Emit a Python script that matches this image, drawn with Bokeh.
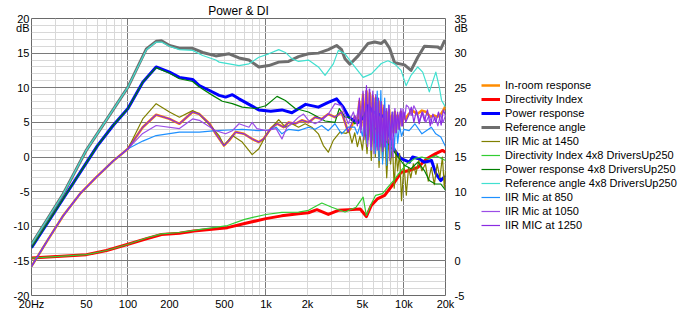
from bokeh.plotting import figure
from bokeh.layouts import row
from bokeh.models import Range1d, LinearAxis, FixedTicker, Legend, LegendItem
from bokeh.embed import file_html
from bokeh.resources import INLINE

FONT = "Liberation Sans"

# ---------------- axis ticks ----------------
X_TICKS = [20, 50, 100, 200, 500, 1000, 2000, 5000, 10000, 20000]
X_LABELS = ["20Hz", "50", "100", "200", "500", "1k", "2k", "5k", "10k", "20k"]
X_MAJOR_GRID = [100, 1000, 10000]
X_MINOR_GRID = [30, 40, 50, 60, 70, 80, 90, 200, 300, 400, 500, 600, 700, 800, 900,
                2000, 3000, 4000, 5000, 6000, 7000, 8000, 9000]
Y_TICKS = [-20, -15, -10, -5, 0, 5, 10, 15, 18.6, 20]
Y_LABELS = ["-20", "-15", "-10", "-5", "0", "5", "10", "15", "dB", "20"]
Y_MAJOR_GRID = [-15, -10, -5, 0, 5, 10, 15]
Y_MINOR_GRID = [v for v in range(-19, 20)]
YR_TICKS = [-5, 0, 5, 10, 15, 20, 25, 30, 33.6, 35]
YR_LABELS = ["-5", "0", "5", "10", "15", "20", "25", "30", "dB", "35"]

# ---------------- series (dB, left axis unless noted) ----------------
REF_F = [20, 34, 50, 70, 100, 136, 160, 175, 200, 236, 294, 348, 433, 541, 638, 753, 888, 1048, 1237,
         1459, 1722, 2032, 2398, 2830, 3251, 3532, 3736, 4058, 4657, 5495, 6139, 6852, 7246, 7870, 8551,
         10090, 11250, 12590, 14060, 17510, 18500, 19590, 20000]
REF_DB = [-12.6, -5.3, 1.0, 5.4, 10.1, 15.6, 16.7, 16.8, 16.1, 15.7, 15.7, 15.1, 14.6, 14.9, 14.3, 14.0,
          13.0, 13.2, 13.7, 13.8, 14.5, 14.9, 15.0, 15.5, 16.1, 15.5, 14.2, 13.4, 14.6, 16.4, 16.6, 16.4,
          16.8, 15.7, 13.6, 13.3, 12.5, 14.4, 16.0, 15.9, 15.6, 16.7, 16.5]

REF4_F = [20, 34, 50, 70, 100, 136, 160, 175, 200, 236, 294, 348, 433, 458, 541, 638, 753, 888, 1048,
          1237, 1382, 1542, 1722, 2032, 2398, 2681, 3078, 3344, 3736, 4405, 5059, 5806, 6852, 7652, 8551,
          9536, 10360, 11250, 12590, 13670, 15270, 17020, 18030, 18720, 20000]
REF4_DB = [-12.6, -5.3, 1.0, 5.4, 10.1, 15.5, 16.6, 16.6, 16.0, 15.5, 15.4, 14.65, 14.0, 13.7, 13.45,
           13.2, 13.45, 14.4, 14.9, 15.5, 15.1, 14.2, 13.8, 14.0, 13.0, 11.8, 13.45, 15.4, 14.9, 13.0,
           11.5, 12.0, 13.5, 13.9, 13.45, 12.5, 10.3, 11.8, 13.0, 12.25, 9.4, 12.25, 10.1, 8.2, 7.2]

PWR_F = [20, 34, 60, 78, 100, 128, 160, 200, 236, 294, 329, 390, 458, 510, 571, 638, 753, 888, 1083,
         1306, 1542, 1938, 2398, 2830, 3251, 3632, 3990, 4300, 4657, 5230, 5495, 5970, 7250, 8050, 8550,
         9536, 10940, 11550, 12820, 14060, 15850, 17020, 18500, 19590, 20000]
PWR_DB = [-13.1, -6.0, 1.6, 4.55, 7.0, 10.8, 13.0, 12.25, 11.5, 11.2, 10.3, 9.6, 8.9, 8.65, 9.0, 8.4,
          7.6, 6.8, 6.6, 6.8, 6.4, 7.6, 7.2, 7.9, 8.4, 7.2, 5.75, 5.3, 5.0, 6.0, 7.4, 6.5, 5.75, 2.4,
          0.95, -0.25, -0.75, 0.0, -0.25, -0.75, -0.5, -2.4, -3.4, -2.9, -3.0]

PWR4_F = [20, 34, 60, 78, 100, 128, 160, 200, 236, 294, 329, 410, 483, 571, 673, 841, 998, 1203, 1382,
          1630, 2032, 2271, 2681, 3163, 3400, 3736, 3990, 4406, 4920, 5340, 5806, 6852, 8050, 9040,
          10090, 11250, 12590, 14060, 15270, 16870, 18500, 20000]
PWR4_DB = [-13.1, -6.0, 1.6, 4.55, 7.0, 10.8, 12.9, 12.1, 11.3, 10.9, 10.1, 8.9, 8.05, 7.7, 7.2, 7.0,
           7.4, 8.75, 8.15, 7.0, 6.5, 6.0, 5.2, 5.0, 7.0, 5.75, 5.75, 4.8, 5.75, 6.25, 4.8, 3.1, 1.4,
           0.0, -1.2, -1.7, -0.75, -1.95, -3.4, -3.9, -3.9, -4.8]

# Directivity index curves, right axis (dB)
DI_F = [20, 50, 70, 100, 136, 175, 236, 300, 526, 700, 1000, 1300, 1722, 2032, 2341, 2830, 3344, 3990,
        4820, 5340, 5800, 6410, 7250, 7870, 8550, 9540, 10940, 12590, 14630, 16870, 19000, 20000]
DI_DB = [0.4, 0.9, 1.5, 2.4, 3.2, 3.8, 4.0, 4.3, 4.8, 5.4, 6.1, 6.5, 6.8, 6.95, 7.4, 6.7, 7.3, 7.4, 7.5,
         6.4, 8.0, 8.95, 9.45, 10.4, 11.35, 12.8, 13.05, 13.5, 14.75, 15.45, 15.95, 15.7]
DI4_F = [20, 50, 70, 100, 136, 175, 236, 300, 526, 700, 1000, 1300, 1722, 2032, 2540, 3000, 3740, 4500,
         5060, 5340, 5800, 6220, 7000, 7650, 8400, 9500, 10500, 12000, 13500, 15000, 17000, 19000, 20000]
DI4_DB = [0.4, 0.9, 1.5, 2.4, 3.3, 3.9, 4.1, 4.4, 5.1, 6.0, 6.7, 7.0, 7.05, 7.3, 8.35, 7.75, 7.05, 7.75,
          9.2, 6.55, 8.25, 9.45, 9.7, 10.65, 11.6, 13.0, 14.0, 14.8, 15.0, 14.7, 15.2, 14.7, 14.5]

# IIR mic curves (shared low-frequency part)
IIR_LOW_F = [20, 26, 34, 45, 59, 78, 100]
IIR_LOW_DB = [-15.8, -12.1, -8.45, -5.3, -2.9, -0.6, 1.2]

M1450_F = [128, 160, 200, 236, 294, 329, 410, 460, 496, 571, 673, 795, 888, 998, 1107, 1237, 1382, 1542,
           1722, 1924, 2148, 2398, 2606, 2830, 3076, 3436, 3800,
           4000, 4200, 4400, 4600, 4800, 5000, 5200, 5400, 5600, 5800, 6000, 6200, 6400, 6600, 6800,
           7000, 7250, 7500, 7750, 8000, 8250, 8500, 8750, 9000, 9300, 9600, 10000, 10400, 10800,
           11200, 11700, 12200, 12800, 13500, 14300, 15000, 15800, 16600, 17400, 18200, 19000, 19600,
           20000]
M1450_DB = [5.5, 7.7, 6.5, 5.75, 6.7, 6.2, 4.2, 3.0, 1.65, 3.1, 2.15, 0.35, 1.2, 3.1, 4.3, 5.4, 4.3, 4.8,
            4.3, 4.8, 4.3, 3.35, 1.65, 0.7, 2.4, 3.6, 3.4,
            3.8, 2.0, 3.5, 1.5, 3.0, 1.0, 4.5, 0.5, 5.5, -0.5, 6.5, 0.0, 5.0, -1.5, 4.0,
            -0.5, 3.5, -3.0, 2.5, -1.0, 2.0, -4.5, 1.0, -2.0, 0.5, -6.3, -1.0, -5.5, -1.5,
            -3.0, -1.0, -2.5, -0.5, -2.0, -1.0, -3.5, -1.5, -4.0, -1.0, -3.0, 0.0, -4.4,
            -2.0]

M850_F = [128, 160, 236, 329, 433, 541, 673, 888, 1048, 1185, 1306, 1459, 1722, 2032, 2271, 2535, 2830,
          3163, 3532, 3944,
          4400, 4600, 4800, 5000, 5200, 5400, 5600, 5800, 6000, 6200, 6400, 6600, 6800, 7000, 7250,
          7500, 7750, 8000, 8250, 8500, 8750, 9000, 9300, 9600, 10000,
          10900, 12000, 13500, 15800, 17000, 18500, 20000]
M850_DB = [2.3, 3.1, 3.6, 3.6, 3.8, 3.9, 4.0, 3.8, 3.9, 4.3, 3.35, 4.0, 3.8, 4.3, 4.0, 4.55, 3.8,
           4.8, 3.35, 4.3,
           4.3, 3.3, 4.5, 3.0, 5.5, 2.0, 7.0, 1.0, 8.5, 0.5, 9.5, -0.5, 9.6, -1.0, 8.5,
           -1.2, 7.5, 0.0, 6.5, 1.0, 5.5, 2.0, 4.5, 3.0, 4.0,
           3.8, 4.8, 3.35, 4.3, 3.35, 2.9, 1.5]

M1050_F = [128, 160, 236, 294, 329, 433, 510, 571, 638, 753, 795, 860, 998, 1185, 1306, 1420, 1542, 1722,
           1871, 2032, 2271, 2535, 2830, 3163, 3532, 3944,
           4300, 4500, 4700, 4850, 5000, 5150, 5300, 5450, 5600, 5750, 5900, 6050, 6200, 6350, 6500,
           6650, 6800, 6950, 7100, 7250, 7400, 7550, 7700, 7900, 8100, 8300, 8500, 8700, 8900, 9100,
           9350, 9600, 9850, 10100, 10400,
           10800, 11300, 11800, 12400, 13000, 13700, 14400, 15200, 16000, 16800, 17600, 18400, 19200,
           20000]
M1050_DB = [3.4, 4.55, 4.1, 5.5, 5.3, 3.8, 3.35, 3.8, 4.8, 4.3, 5.0, 4.1, 3.8, 4.1, 2.6, 4.3, 4.8, 5.75,
            6.2, 5.3, 4.8, 5.3, 6.2, 7.7, 7.4, 4.8,
            6.5, 5.0, 7.5, 3.5, 8.5, 2.5, 9.5, 1.5, 9.8, 1.0, 9.0, 0.5, 8.5, 1.5, 8.0,
            1.0, 7.5, 2.0, 7.0, 1.5, 6.5, 2.5, 7.0, -0.5, 6.0, 0.0, 6.5, 3.5, 6.0, 4.0,
            6.5, 4.5, 7.0, 5.5, 7.5,
            7.2, 6.0, 7.4, 6.5, 5.2, 6.5, 5.0, 6.0, 4.8, 5.8, 4.5, 6.2, 5.0,
            6.0]

ROOM_F = [128, 160, 200, 236, 294, 329, 390, 433, 496, 541, 603, 692, 795, 888, 960, 1083, 1203, 1344,
          1459, 1630, 1820, 2032, 2271, 2535, 2830, 3163, 3532, 3944,
          4200, 4400, 4600, 4750, 4900, 5050, 5200, 5350, 5500, 5650, 5800, 5950, 6100, 6250, 6400,
          6550, 6700, 6850, 7000, 7150, 7300, 7450, 7600, 7800, 8000, 8200, 8400, 8600, 8800, 9000,
          9250, 9500, 9750, 10000, 10300]
ROOM_DB = [4.3, 6.1, 5.5, 4.8, 6.5, 6.2, 4.8, 3.35, 1.65, 2.4, 3.6, 3.35, 2.6, 2.15, 2.6, 4.1, 4.8, 4.3,
           5.0, 4.8, 5.3, 5.0, 5.75, 5.5, 6.2, 5.75, 6.5, 3.6,
           4.5, 5.8, 5.0, 8.0, 4.5, 9.0, 3.5, 9.5, 3.0, 9.2, 2.5, 8.8, 3.0, 8.5, 2.0,
           8.0, 2.5, 7.5, 1.5, 7.0, 2.0, 6.5, 2.5, 6.8, 3.0, 6.0, 3.5, 6.5, 4.0, 6.0,
           4.5, 6.5, 5.0, 6.0, 5.5]
ROOM_TAIL_F = [10800, 11500, 12500, 13500, 14500, 15500, 16500, 17500, 18500, 19500, 20000]
ROOM_TAIL_DB = [6.2, 6.7, 6.2, 6.7, 6.5, 5.8, 6.0, 5.8, 6.2, 6.9, 7.4]

M1250_NOISE_DB = [5.0, 6.0, 4.5, 8.5, 4.0, 9.5, 3.0, 10.3, 2.5, 9.8, 1.5, 9.5, 2.0, 9.0, 1.0,
                  8.5, 1.5, 8.0, 0.8, 7.5, 1.5, 7.0, 2.0, 7.5, 2.5, 6.5, 3.0, 7.0, 3.5, 6.5,
                  4.0, 7.0, 4.5, 6.5, 5.0]
M1250_TAIL_F = [10800, 11300, 11800, 12300, 12900, 13500, 14100, 14800, 15500, 16200, 17000, 17800,
                18600, 19300, 20000]
M1250_TAIL_DB = [6.0, 7.2, 5.0, 6.7, 4.8, 6.5, 5.2, 6.8, 4.5, 6.2, 5.0, 6.5, 4.6, 6.8, 6.0]

SERIES_NAMES = ["In-room response", "Directivity Index", "Power response", "Reference angle",
                "IIR Mic at 1450", "Directivity Index 4x8 DriversUp250", "Power response 4x8 DriversUp250",
                "Reference angle 4x8 DriversUp250", "IIR Mic at 850", "IIR Mic at 1050", "IIR MIC at 1250"]
SERIES_COLORS = ["#ff8c00", "#ff0000", "#0000ff", "#6e6e6e", "#808000", "#32cd32", "#008000",
                 "#40e0d0", "#1e90ff", "#9b4de6", "#8a2be2"]
SERIES_WIDTHS = [2.5, 3, 3, 3, 1.2, 1.2, 1.2, 1.2, 1.2, 1.2, 1.2]

SERIES = [
    (IIR_LOW_F + ROOM_F + ROOM_TAIL_F, IIR_LOW_DB + ROOM_DB + ROOM_TAIL_DB, None),
    (DI_F, DI_DB, "right"),
    (PWR_F, PWR_DB, None),
    (REF_F, REF_DB, None),
    (IIR_LOW_F + M1450_F, IIR_LOW_DB + M1450_DB, None),
    (DI4_F, DI4_DB, "right"),
    (PWR4_F, PWR4_DB, None),
    (REF4_F, REF4_DB, None),
    (IIR_LOW_F + M850_F, IIR_LOW_DB + M850_DB, None),
    (IIR_LOW_F + M1050_F, IIR_LOW_DB + M1050_DB, None),
    (IIR_LOW_F + ROOM_F + M1250_TAIL_F, IIR_LOW_DB + ROOM_DB[:28] + M1250_NOISE_DB + M1250_TAIL_DB, None),
]

# ---------------- figure ----------------
p = figure(width=470, height=313, x_axis_type="log",
           x_range=Range1d(20, 20000), y_range=Range1d(-20, 20),
           output_backend="svg", toolbar_location=None,
           min_border_left=31, min_border_right=22, min_border_top=18, min_border_bottom=18)
p.extra_y_ranges = {"right": Range1d(-5, 35)}
p.background_fill_color = "white"
p.border_fill_color = "white"
p.outline_line_color = "#6a6a6a"
p.outline_line_width = 1

p.title.text = "Power & DI"
p.title.align = "center"
p.title.text_font = FONT
p.title.text_font_size = "12px"
p.title.text_font_style = "normal"
p.title.text_color = "black"
p.title.standoff = 2

p.xgrid.ticker = FixedTicker(ticks=X_MAJOR_GRID, minor_ticks=X_MINOR_GRID)
p.ygrid.ticker = FixedTicker(ticks=Y_MAJOR_GRID, minor_ticks=Y_MINOR_GRID)
for g in (p.xgrid, p.ygrid):
    g.grid_line_color = "#7a7a7a"
    g.grid_line_width = 1
    g.minor_grid_line_color = "#d8d8d8"
    g.minor_grid_line_width = 1

def style_axis(ax, standoff):
    ax.axis_line_color = None
    ax.major_tick_line_color = None
    ax.minor_tick_line_color = None
    ax.major_tick_out = 0
    ax.minor_tick_out = 0
    ax.major_tick_in = 0
    ax.minor_tick_in = 0
    ax.major_label_text_font = FONT
    ax.major_label_text_font_size = "11px"
    ax.major_label_text_color = "black"
    ax.major_label_standoff = standoff

xa = p.xaxis[0]
xa.ticker = FixedTicker(ticks=X_TICKS)
xa.major_label_overrides = {t: l for t, l in zip(X_TICKS, X_LABELS)}
style_axis(xa, 2)

ya = p.yaxis[0]
ya.ticker = FixedTicker(ticks=Y_TICKS)
ya.major_label_overrides = {t: l for t, l in zip(Y_TICKS, Y_LABELS)}
style_axis(ya, 2)

yr = LinearAxis(y_range_name="right", ticker=FixedTicker(ticks=YR_TICKS))
yr.major_label_overrides = {t: l for t, l in zip(YR_TICKS, YR_LABELS)}
style_axis(yr, 9)
p.add_layout(yr, "right")

for i, (xs, ys, rng) in enumerate(SERIES):
    kw = dict(line_color=SERIES_COLORS[i], line_width=SERIES_WIDTHS[i], line_join="round")
    if rng:
        kw["y_range_name"] = rng
    p.line(xs, ys, **kw)

# ---------------- legend panel (same series, outside its visible range) ----------------
lp = figure(width=218, height=313, x_range=Range1d(0, 1), y_range=Range1d(0, 1),
            output_backend="svg", toolbar_location=None,
            x_axis_location=None, y_axis_location=None,
            min_border_left=0, min_border_right=0, min_border_top=0, min_border_bottom=0)
lp.outline_line_color = None
lp.xgrid.visible = False
lp.ygrid.visible = False
lp.background_fill_color = "white"
lp.border_fill_color = "white"

items = []
for i, (xs, ys, rng) in enumerate(SERIES):
    r = lp.line(xs, ys, line_color=SERIES_COLORS[i], line_width=SERIES_WIDTHS[i])
    items.append(LegendItem(label=SERIES_NAMES[i], renderers=[r]))

legend = Legend(items=items, location=(11, 63), orientation="vertical",
                label_text_font=FONT, label_text_font_size="11px", label_text_color="black",
                glyph_width=19, glyph_height=14, label_height=14, label_standoff=5,
                spacing=0, padding=0, margin=0,
                border_line_color=None, background_fill_alpha=0)
lp.add_layout(legend, "center")

open("out.html", "w").write(file_html(row(p, lp), INLINE))
